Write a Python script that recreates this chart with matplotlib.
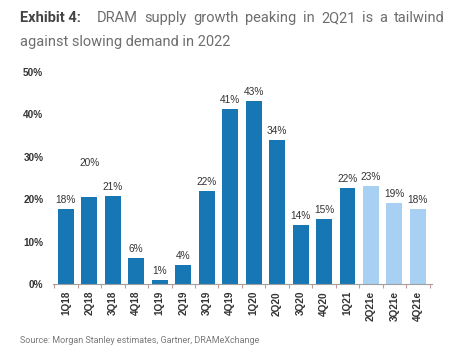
import matplotlib
matplotlib.use("Agg")
import matplotlib.pyplot as plt

categories = ["1Q18", "2Q18", "3Q18", "4Q18", "1Q19", "2Q19", "3Q19", "4Q19",
              "1Q20", "2Q20", "3Q20", "4Q20", "1Q21", "2Q21e", "3Q21e", "4Q21e"]
values = [17.7, 20.5, 20.8, 6.1, 1.0, 4.4, 21.9, 41.2,
          43.2, 34.0, 13.9, 15.3, 22.6, 23.1, 19.1, 17.7]
labels = ["18%", "20%", "21%", "6%", "1%", "4%", "22%", "41%",
          "43%", "34%", "14%", "15%", "22%", "23%", "19%", "18%"]
estimate = [False] * 13 + [True] * 3
yticks = [0, 10, 20, 30, 40, 50]
ytick_labels = ["0%", "10%", "20%", "30%", "40%", "50%"]

title_bold = "Exhibit 4:"
title_line1 = "DRAM supply growth peaking in 2Q21 is a tailwind"
title_line2 = "against slowing demand in 2022"
source = "Source: Morgan Stanley estimates, Gartner, DRAMeXchange"

plt.rcParams['font.family'] = ['Roboto', 'DejaVu Sans']

W, H = 466, 356
fig = plt.figure(figsize=(W / 100, H / 100), dpi=100)
fig.patch.set_facecolor("white")

ax = fig.add_axes([53 / W, (H - 284) / H, (432 - 53) / W, (284 - 72) / H])
dark = "#1777b4"
light = "#a8d0f3"
colors = [light if e else dark for e in estimate]
x = list(range(len(categories)))
ax.bar(x, values, width=0.68, color=colors, zorder=2)

ax.set_ylim(0, 50)
ax.set_xlim(-0.55, len(categories) - 1 + 0.6)
ax.set_yticks(yticks)
ax.set_yticklabels(ytick_labels, fontsize=7.2, fontweight="bold", color="#333333",
                   family=["Liberation Sans", "DejaVu Sans"])
ax.tick_params(axis="y", length=0, pad=7)
ax.set_xticks(x)
ax.set_xticklabels(categories, rotation=90, fontsize=7.2, fontweight="bold",
                   color="#333333", family=["Liberation Sans", "DejaVu Sans"])
ax.tick_params(axis="x", length=0, pad=5)
ax.set_xticks([i - 0.5 for i in range(len(categories) + 1)], minor=True)
ax.tick_params(axis="x", which="minor", length=3, color="#c49a9a", width=0.8)

for s in ["top", "right", "left"]:
    ax.spines[s].set_visible(False)
ax.spines["bottom"].set_color("#a0a0a0")
ax.spines["bottom"].set_linewidth(0.8)

extra = {1: 18}
for i, (v, lab) in enumerate(zip(values, labels)):
    ax.annotate(lab, (i, v), xytext=(0, 3 + extra.get(i, 0)), textcoords="offset points",
                ha="center", va="bottom", fontsize=7.3, color="#333333",
                family=["Liberation Sans", "DejaVu Sans"])

# title: bold lead-in, then justified first line
fig.text(20 / W, 1 - 22 / H, title_bold, fontsize=10.5, fontweight="bold",
         color="#444444", ha="left", va="baseline")
words = title_line1.split()
x0, x1 = 97, 445
renderer = fig.canvas.get_renderer()
txts = []
widths = []
for w in words:
    t = fig.text(0, 1 - 22 / H, w, fontsize=10.5, color="#6e6e6e",
                 ha="left", va="baseline")
    txts.append(t)
    widths.append(t.get_window_extent(renderer).width)
gap = (x1 - x0 - sum(widths)) / (len(words) - 1)
pos = x0
for t, wd in zip(txts, widths):
    t.set_x(pos / W)
    pos += wd + gap
fig.text(20 / W, 1 - 46 / H, title_line2, fontsize=10.5,
         color="#6e6e6e", ha="left", va="baseline")
fig.text(20 / W, 1 - 343 / H, source, fontsize=6.5, color="#7a7a7a",
         ha="left", va="baseline")

fig.savefig("out.png", dpi=100, facecolor="white")
